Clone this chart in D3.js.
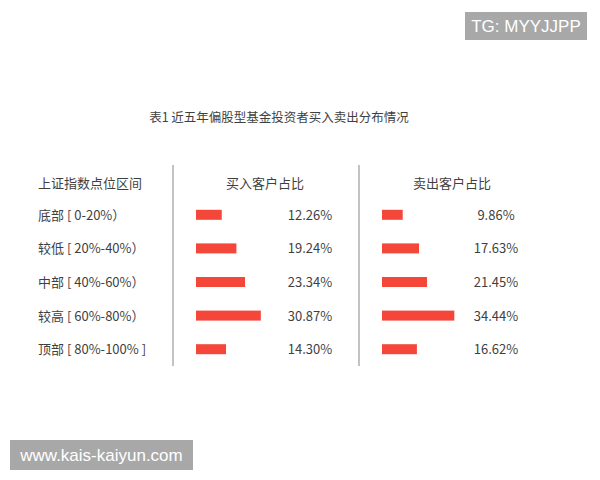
<!DOCTYPE html>
<html><head><meta charset="utf-8">
<script src="https://cdn.jsdelivr.net/npm/d3@7"></script>
<style>body{margin:0;background:#fff}svg{display:block}</style>
</head><body>
<svg id="c" width="600" height="480"></svg>
<script>
const title = "表1 近五年偏股型基金投资者买入卖出分布情况";
const headers = ["上证指数点位区间", "买入客户占比", "卖出客户占比"];
const categories = ["底部 [ 0-20%）", "较低 [ 20%-40%）", "中部 [ 40%-60%）", "较高 [ 60%-80%）", "顶部 [ 80%-100% ]"];
const buyValues = [12.26, 19.24, 23.34, 30.87, 14.30];
const sellValues = [9.86, 17.63, 21.45, 34.44, 16.62];

const svg = d3.select("#c");
const font = "'Noto Sans CJK SC', 'Noto Sans', sans-serif";
const wfont = "'Liberation Sans', Arial, sans-serif";
const txt = "#3f3f3f";
const red = "#f4473a";

// watermark top
svg.append("rect").attr("x",465).attr("y",12).attr("width",122).attr("height",28).attr("fill","#a8a8a8");
svg.append("text").attr("x",526).attr("y",32).attr("text-anchor","middle").attr("fill","#fff")
  .attr("font-family",wfont).attr("font-size",17).text("TG: MYYJJPP");

// title
svg.append("text").attr("x",279).attr("y",122).attr("text-anchor","middle").attr("fill",txt)
  .attr("font-family",font).attr("font-size",12.5).text(title);

// row scale
const y = d3.scaleBand().domain(categories).range([198, 366]).paddingInner(0);
const x = d3.scaleLinear().domain([0, 100]).range([0, 210]);

// vertical separators
[173, 359].forEach(v => svg.append("line").attr("x1",v).attr("x2",v).attr("y1",165).attr("y2",366)
  .attr("stroke","#9a9a9a").attr("stroke-width",1.2));

// headers
svg.append("text").attr("x",38).attr("y",188).attr("fill",txt).attr("font-family",font).attr("font-size",13).text(headers[0]);
svg.append("text").attr("x",265).attr("y",188).attr("text-anchor","middle").attr("fill",txt).attr("font-family",font).attr("font-size",13).text(headers[1]);
svg.append("text").attr("x",452).attr("y",188).attr("text-anchor","middle").attr("fill",txt).attr("font-family",font).attr("font-size",13).text(headers[2]);

const cy = d => y(d) + y.bandwidth()/2;

// row labels
svg.selectAll(".cat").data(categories).join("text").attr("class","cat")
  .attr("x",38).attr("y",d=>cy(d)+5).attr("fill",txt).attr("font-family",font).attr("font-size",13).text(d=>d);

function drawSeries(vals, x0, labelX, cls){
  svg.selectAll("."+cls+"b").data(vals).join("rect").attr("class",cls+"b")
    .attr("x",x0).attr("y",(d,i)=>cy(categories[i])-5).attr("width",d=>x(d)).attr("height",10).attr("fill",red);
  svg.selectAll("."+cls+"t").data(vals).join("text").attr("class",cls+"t")
    .attr("x",labelX).attr("y",(d,i)=>cy(categories[i])+5).attr("text-anchor","middle")
    .attr("fill",txt).attr("font-family",font).attr("font-size",13).text(d=>d.toFixed(2)+"%");
}
drawSeries(buyValues, 196, 310, "buy");
drawSeries(sellValues, 382, 496, "sell");

// watermark bottom
svg.append("rect").attr("x",10).attr("y",440).attr("width",183).attr("height",30).attr("fill","#a8a8a8");
svg.append("text").attr("x",101.5).attr("y",461).attr("text-anchor","middle").attr("fill","#fff")
  .attr("font-family",wfont).attr("font-size",17).text("www.kais-kaiyun.com");
</script>
</body></html>
